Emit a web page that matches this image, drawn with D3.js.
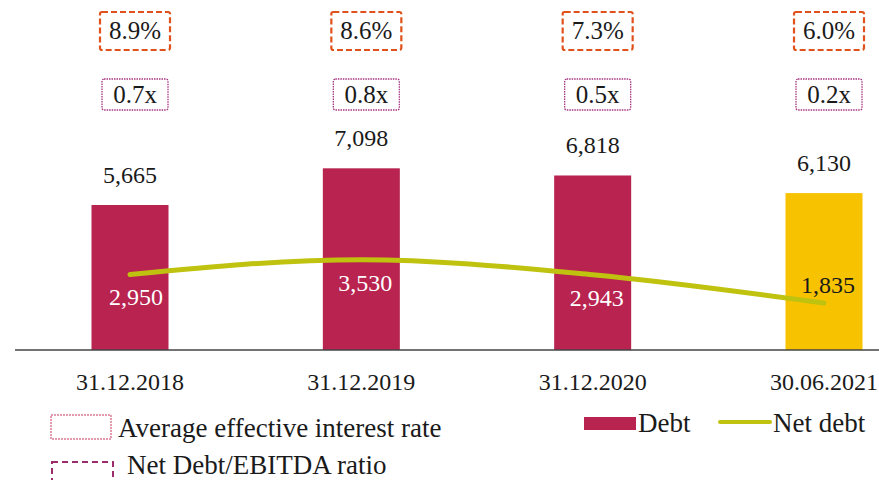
<!DOCTYPE html>
<html>
<head>
<meta charset="utf-8">
<script src="https://cdn.jsdelivr.net/npm/d3@7"></script>
<style>
  body { margin: 0; background: #fff; }
</style>
</head>
<body>
<div id="chart"></div>
<script>
// chart values
var periods = ["31.12.2018", "31.12.2019", "31.12.2020", "30.06.2021"];
var debt = [5665, 7098, 6818, 6130];
var netDebt = [2950, 3530, 2943, 1835];
var interestRate = ["8.9%", "8.6%", "7.3%", "6.0%"];
var debtToEbitda = ["0.7x", "0.8x", "0.5x", "0.2x"];

var width = 879, height = 480;
var baseline = 350;
var serif = "'Liberation Serif'";

var svg = d3.select("#chart").append("svg")
    .attr("width", width)
    .attr("height", height);

// x centers, the last band runs past the right edge like the original
var x = d3.scalePoint()
    .domain(periods)
    .range([130, 824]);
var barWidth = 77;

var y = d3.scaleLinear()
    .domain([0, 5665])
    .range([baseline, 205]);

var colDebt = "#b8234f", colLast = "#f7c300", colLine = "#c0c210";

function label(sel, size) {
    return sel.style("font-family", serif)
        .style("font-size", size + "px")
        .style("fill", "#1a1a1a");
}

// bars
svg.selectAll("rect.bar")
    .data(debt)
    .enter().append("rect")
    .attr("class", "bar")
    .attr("x", function(d, i) { return x(periods[i]) - barWidth / 2; })
    .attr("y", function(d) { return y(d); })
    .attr("width", barWidth)
    .attr("height", function(d) { return baseline - y(d); })
    .attr("fill", function(d, i) { return i == debt.length - 1 ? colLast : colDebt; });

// x axis line
svg.append("line")
    .attr("x1", 15).attr("x2", width)
    .attr("y1", baseline).attr("y2", baseline)
    .attr("stroke", "#444").attr("stroke-width", 1.5);

// tick labels
label(svg.selectAll("text.tick")
    .data(periods)
    .enter().append("text")
    .attr("class", "tick")
    .attr("x", function(d) { return x(d); })
    .attr("y", 390)
    .attr("text-anchor", "middle"), 24)
    .text(function(d) { return d; });

// debt labels
label(svg.selectAll("text.debt")
    .data(debt)
    .enter().append("text")
    .attr("class", "debt")
    .attr("x", function(d, i) { return x(periods[i]); })
    .attr("y", function(d) { return y(d) - 22; })
    .attr("text-anchor", "middle"), 24)
    .text(function(d) { return d3.format(",")(d); });

// net debt line
var line = d3.line()
    .x(function(d, i) { return x(periods[i]); })
    .y(function(d) { return y(d); })
    .curve(d3.curveMonotoneX);

svg.append("path")
    .datum(netDebt)
    .attr("d", line)
    .attr("fill", "none")
    .attr("stroke", colLine)
    .attr("stroke-width", 5)
    .attr("stroke-linecap", "round");

label(svg.selectAll("text.net")
    .data(netDebt)
    .enter().append("text")
    .attr("class", "net")
    .attr("x", function(d, i) { return x(periods[i]) + (i == 0 ? 6 : 4); })
    .attr("y", function(d, i) { return i == netDebt.length - 1 ? y(d) - 10 : y(d) + 31; })
    .attr("text-anchor", "middle"), 24)
    .style("fill", function(d, i) { return i == netDebt.length - 1 ? "#1a1a1a" : "#fff"; })
    .text(function(d) { return d3.format(",")(d); });

// boxed annotations
function boxes(values, cls, top, w, h, stroke, dash, sw) {
    var g = svg.selectAll("g." + cls)
        .data(values)
        .enter().append("g")
        .attr("class", cls)
        .attr("transform", function(d, i) { return "translate(" + (x(periods[i]) + 5) + "," + top + ")"; });
    g.append("rect")
        .attr("x", -w / 2).attr("y", 0)
        .attr("width", w).attr("height", h)
        .attr("rx", 2)
        .attr("fill", "#fff")
        .attr("stroke", stroke)
        .attr("stroke-width", sw)
        .attr("stroke-dasharray", dash);
    label(g.append("text")
        .attr("x", 0)
        .attr("y", h / 2 + 8)
        .attr("text-anchor", "middle"), 25)
        .text(function(d) { return d; });
}
boxes(interestRate, "rate", 12, 70, 38, "#e0521c", "6,3", 2.2);
boxes(debtToEbitda, "ratio", 79, 66, 31, "#a5357f", "1.5,1", 1.3);

// legend
var legend = svg.append("g").attr("class", "legend");
legend.append("rect")
    .attr("x", 51).attr("y", 415).attr("width", 60).attr("height", 24)
    .attr("fill", "none").attr("stroke", "#c8365f")
    .attr("stroke-width", 1).attr("stroke-dasharray", "2,1");
label(legend.append("text")
    .attr("x", 118).attr("y", 437), 27)
    .text("Average effective interest rate");
legend.append("rect")
    .attr("x", 52).attr("y", 462).attr("width", 61).attr("height", 25)
    .attr("fill", "none").attr("stroke", "#9b2c6e")
    .attr("stroke-width", 2).attr("stroke-dasharray", "6,4");
label(legend.append("text")
    .attr("x", 127).attr("y", 474), 27)
    .text("Net Debt/EBITDA ratio");

legend.append("rect")
    .attr("x", 584).attr("y", 417).attr("width", 52).attr("height", 13)
    .attr("fill", colDebt);
label(legend.append("text")
    .attr("x", 638).attr("y", 432), 27)
    .text("Debt");
legend.append("line")
    .attr("x1", 720).attr("x2", 770).attr("y1", 422).attr("y2", 422)
    .attr("stroke", colLine).attr("stroke-width", 4).attr("stroke-linecap", "round");
label(legend.append("text")
    .attr("x", 773).attr("y", 432), 27)
    .text("Net debt");
</script>
</body>
</html>
